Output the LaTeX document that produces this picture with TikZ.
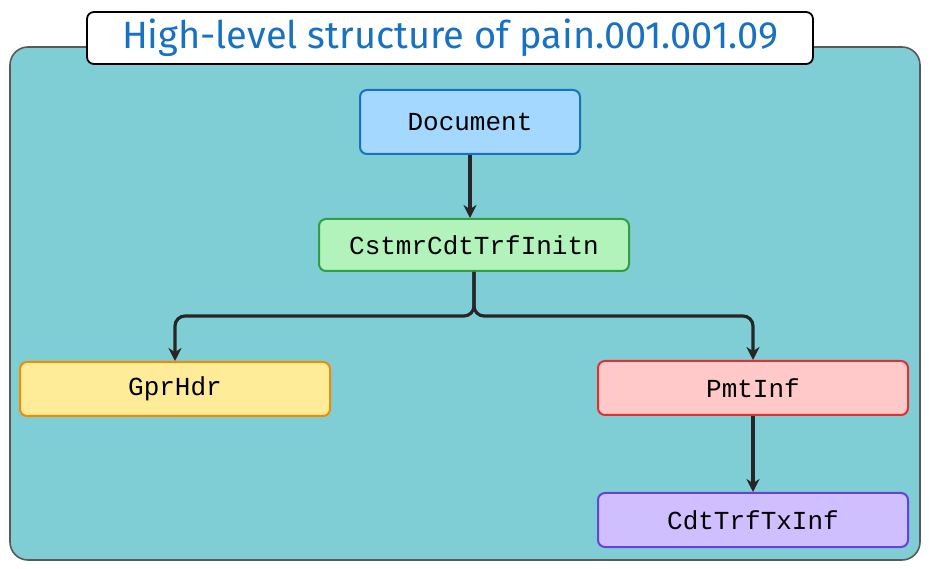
\documentclass[tikz,border=0pt]{standalone}
\usepackage{fontspec}
\setmainfont{Liberation Mono}
\newfontfamily\titlefont{Fira Sans}
\usetikzlibrary{arrows.meta}
\definecolor{bg}{HTML}{7FCED6}
\definecolor{tblue}{HTML}{1971C2}
\definecolor{dfill}{HTML}{A5D8FF}
\definecolor{gfill}{HTML}{B2F2BB}\definecolor{gline}{HTML}{2F9E44}
\definecolor{yfill}{HTML}{FFEC99}\definecolor{yline}{HTML}{F08C00}
\definecolor{rfill}{HTML}{FFC9C9}\definecolor{rline}{HTML}{E03131}
\definecolor{pfill}{HTML}{D0BFFF}\definecolor{pline}{HTML}{6741D9}
\tikzset{
  box/.style={draw, line width=2pt, rounded corners=7pt, minimum height=#1, inner sep=0pt, font=\fontsize{26}{30}\selectfont},
  conn/.style={draw=black!85, line width=3.2pt, -{Stealth[length=13pt,width=13pt]}, rounded corners=10pt}
}
\begin{document}
\begin{tikzpicture}[x=1pt,y=-1pt]
\useasboundingbox (0,0) rectangle (930,569);
\draw[fill=bg, draw=gray!70!black, line width=1.6pt, rounded corners=18pt] (10,47) rectangle (920,560);
\node[draw, fill=white, line width=1.8pt, rounded corners=7pt, minimum width=726pt, minimum height=52pt, text=tblue, font=\titlefont\fontsize{38}{44}\selectfont] (title) at (450,38) {High-level structure of pain.001.001.09};
\node[box=64pt, fill=dfill, draw=tblue, minimum width=220pt] (doc) at (470,122) {Document};
\node[box=52pt, fill=gfill, draw=gline, minimum width=310pt] (cstmr) at (474,245) {CstmrCdtTrfInitn};
\node[box=54pt, fill=yfill, draw=yline, minimum width=310pt] (grp) at (175,389) {GprHdr};
\node[box=54pt, fill=rfill, draw=rline, minimum width=310pt] (pmt) at (753,388) {PmtInf};
\node[box=54pt, fill=pfill, draw=pline, minimum width=310pt] (cdt) at (753,520) {CdtTrfTxInf};
\coordinate (split) at (474,316);
\draw[conn] (doc.south) -- (doc.south |- cstmr.north);
\draw[conn] (cstmr.south) -- (split) -| (grp.north);
\draw[conn] (cstmr.south) -- (split) -| (pmt.north);
\draw[conn] (pmt.south) -- (cdt.north);
\end{tikzpicture}
\end{document}
